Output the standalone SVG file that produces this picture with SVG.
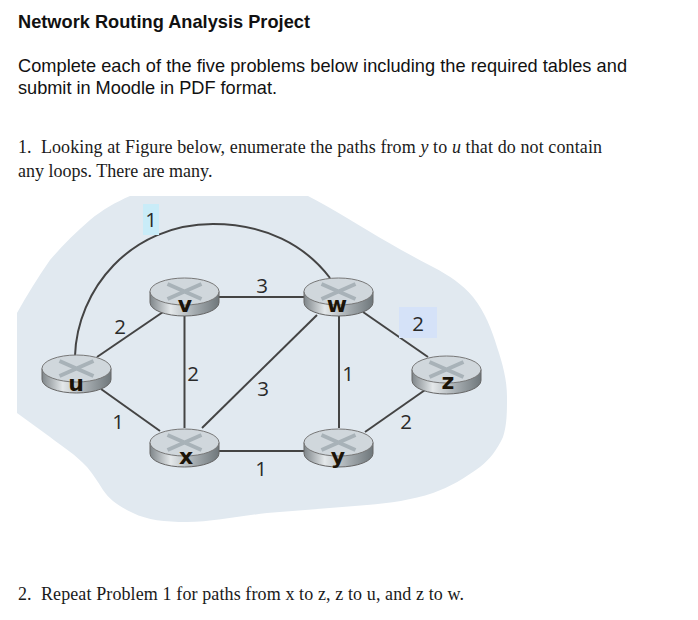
<svg xmlns="http://www.w3.org/2000/svg" width="698" height="620" viewBox="0 0 698 620">
<style>
.h{font-family:"Liberation Sans",Arial,sans-serif;fill:#111}
.s{font-family:"Liberation Serif","Times New Roman",serif;font-size:18px;fill:#1a1a1a;white-space:pre}
.l{font-family:"Open Sans","Noto Sans",sans-serif;font-size:20.500px;fill:#2a2a2a;text-anchor:middle}
.n{font-family:"DejaVu Sans",sans-serif;font-weight:bold;font-size:22px;fill:#1c1408;text-anchor:middle}
.c{fill:none;stroke:#444;stroke-width:2}
.x{fill:none;stroke:#a8b2b8;stroke-width:4}
</style>
<defs>
<linearGradient id="side" x1="0" x2="1" y1="0" y2="0">
<stop offset="0" stop-color="#7f868a"/><stop offset=".3" stop-color="#e4e8ea"/><stop offset=".65" stop-color="#a4abaf"/><stop offset="1" stop-color="#6f777b"/>
</linearGradient>
<g id="router">
<path d="M-34.500 -5.500V5.500A34.500 13.500 0 0 0 34.500 5.500V-5.500Z" fill="url(#side)" stroke="#666" stroke-width="1"/>
<ellipse cx="0" cy="-5.500" rx="34.500" ry="13.500" fill="#d0d7dc" stroke="#777" stroke-width="1"/>
<path class="x" d="M-17 -13L17 2M-17 2L17 -13"/>
</g>
</defs>
<rect width="698" height="620" fill="#fff"/>
<text class="h" x="18" y="27.500" font-size="18.200" font-weight="bold" textLength="292">Network Routing Analysis Project</text>
<text class="h" x="18" y="72" font-size="18.200" textLength="609">Complete each of the five problems below including the required tables and</text>
<text class="h" x="18" y="94" font-size="18.200" textLength="259">submit in Moodle in PDF format.</text>
<text class="s" x="18" y="153" textLength="584">1.  Looking at Figure below, enumerate the paths from <tspan font-style="italic">y</tspan> to <tspan font-style="italic">u</tspan> that do not contain</text>
<text class="s" x="18" y="177">any loops. There are many.</text>
<text class="s" x="18" y="600" textLength="446">2.  Repeat Problem 1 for paths from x to z, z to u, and z to w.</text>
<path id="blob" fill="#e1e9f0" d="M130 196H308C330 207 348 219 367 230C390 244 412 256 433 267C450 276 462 284 473 297C485 312 492 330 497 347C503 365 507 380 507 397C507 412 507 425 503 437C497 450 490 459 480 467C465 478 450 487 433 493C412 500 390 503 367 505C335 508 300 510 267 513C240 516 212 522 187 522C165 522 147 520 133 513C118 506 110 500 103 490C98 482 93 474 87 467C76 455 63 447 50 437C39 429 28 421 17 413V313C27 295 38 277 50 260C62 246 76 232 90 220C102 210 116 202 130 196Z"/>
<g id="connectors">
<path class="c" d="M75 356C77 290 130 224 213 224C265 224 305 245 330 278"/>
<path class="c" d="M97 357L163 312"/>
<path class="c" d="M101 389L160 431"/>
<path class="c" d="M184.500 316V428"/>
<path class="c" d="M219 297H304"/>
<path class="c" d="M202 428L317 315"/>
<path class="c" d="M219 451H304"/>
<path class="c" d="M339 316V428"/>
<path class="c" d="M363 312L428 357"/>
<path class="c" d="M365 432L425 390"/>
</g>
<rect x="143" y="204" width="16" height="31" fill="#c9ecf8"/>
<rect x="399" y="307" width="38" height="31" fill="#d5e2f8"/>
<g id="labels">
<text class="l" x="151" y="226.500">1</text>
<text class="l" x="262" y="292.500">3</text>
<text class="l" x="120" y="333.500">2</text>
<text class="l" x="193" y="380.500">2</text>
<text class="l" x="263" y="395.500">3</text>
<text class="l" x="348" y="380.500">1</text>
<text class="l" x="418" y="330.500">2</text>
<text class="l" x="406" y="428.500">2</text>
<text class="l" x="118" y="428.500">1</text>
<text class="l" x="261" y="475.500">1</text>
</g>
<g id="node-u"><use href="#router" x="76.500" y="374"/><text class="n" x="76" y="391">u</text></g>
<g id="node-v"><use href="#router" x="184.500" y="297"/><text class="n" x="185" y="312">v</text></g>
<g id="node-w"><use href="#router" x="338.500" y="297"/><text class="n" x="337" y="312">w</text></g>
<g id="node-z"><use href="#router" x="446.500" y="375"/><text class="n" x="448" y="389">z</text></g>
<g id="node-x"><use href="#router" x="184.500" y="448"/><text class="n" x="186" y="464">x</text></g>
<g id="node-y"><use href="#router" x="338.500" y="448"/><text class="n" x="338" y="464">y</text></g>
</svg>
